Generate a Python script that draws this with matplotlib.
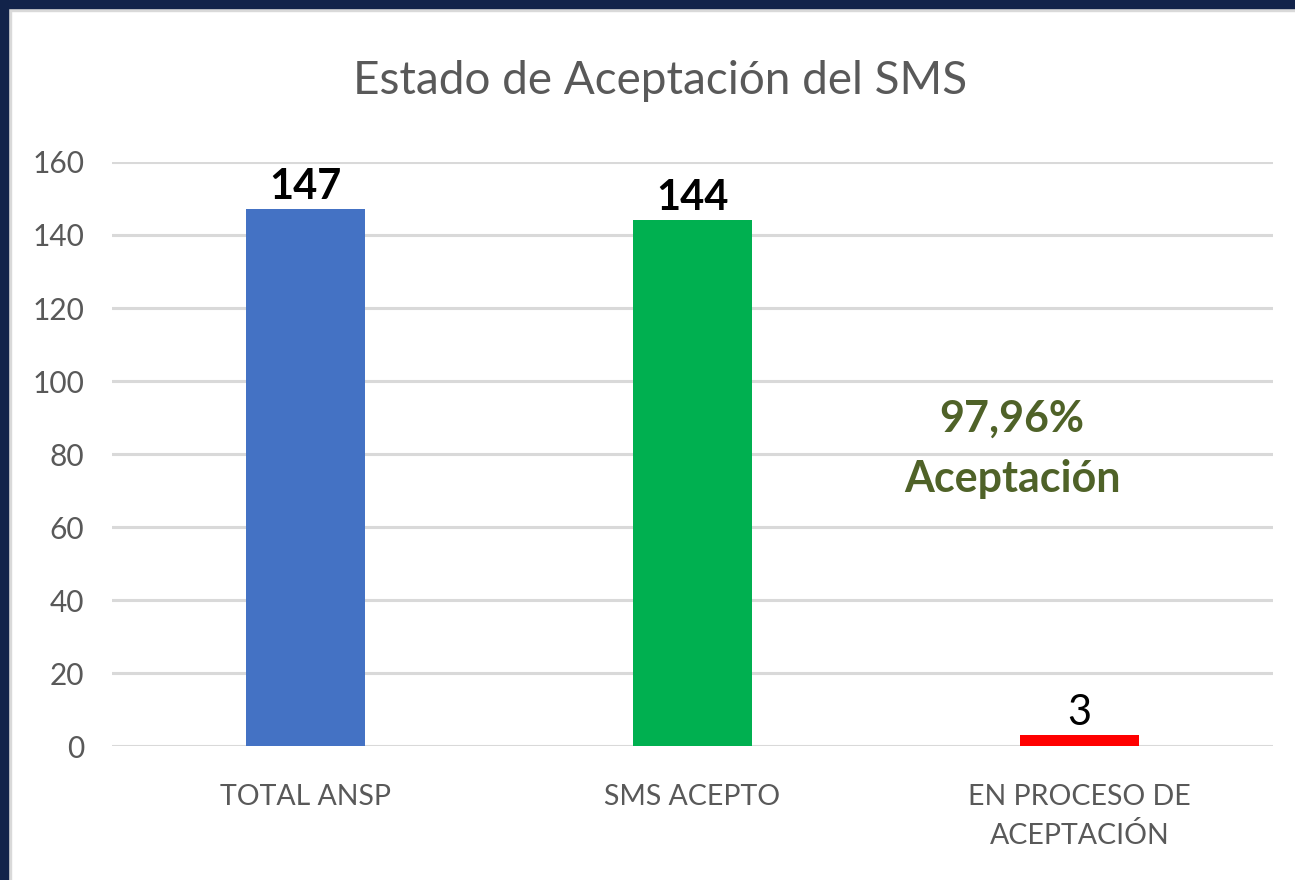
import matplotlib.pyplot as plt
from matplotlib.patches import Rectangle

categories = ['TOTAL ANSP', 'SMS ACEPTO', 'EN PROCESO DE\nACEPTACIÓN']
values = [147, 144, 3]
bar_colors = ['#4472C4', '#00B050', '#FF0000']
label_bold = [True, True, False]
note = '97,96%\nAceptación'

plt.rcParams['font.family'] = ['Lato', 'DejaVu Sans']

fig = plt.figure(figsize=(12.95, 8.8), dpi=100)
ax = fig.add_axes([0.0865, 0.152, 0.8965, 0.664])

x = range(len(values))
ax.bar(x, values, width=0.31, color=bar_colors, zorder=3)

for i, v in enumerate(values):
    ax.text(i, v + 0.8, str(v), ha='center', va='bottom', fontsize=30,
            fontweight='bold' if label_bold[i] else 'normal', color='black')

ax.text(1.826, 81.5, note, ha='center', va='center', fontsize=31,
        fontweight='bold', color='#4F6228', linespacing=1.6)

ax.set_xlim(-0.5, 2.5)
ax.set_ylim(0, 160)
ax.set_yticks(range(0, 161, 20))
ax.set_xticks(list(x))
ax.set_xticklabels(categories, linespacing=1.55)
ax.tick_params(axis='x', length=0, labelsize=20.5, labelcolor='#595959', pad=27)
ax.tick_params(axis='y', length=0, labelsize=21.5, labelcolor='#595959', pad=20)
ax.grid(axis='y', color='#D9D9D9', linewidth=2.2, zorder=0)
for s in ax.spines.values():
    s.set_visible(False)

fig.text(0.51, 0.908, 'Estado de Aceptación del SMS', ha='center', va='center',
         fontsize=33, color='#595959')

# dark frame on top and left edge
fig.patches.append(Rectangle((0, 0), 8 / 1295, 1, transform=fig.transFigure,
                             color='#12234A', zorder=10))
fig.patches.append(Rectangle((0, 1 - 8 / 880), 1, 8 / 880, transform=fig.transFigure,
                             color='#12234A', zorder=10))
fig.patches.append(Rectangle((8 / 1295, 0), 3 / 1295, 1 - 8 / 880, transform=fig.transFigure,
                             color='#D9D9D9', zorder=9))
fig.patches.append(Rectangle((8 / 1295, 1 - 11 / 880), 1, 3 / 880, transform=fig.transFigure,
                             color='#D9D9D9', zorder=9))

fig.savefig('out.png', dpi=100)
